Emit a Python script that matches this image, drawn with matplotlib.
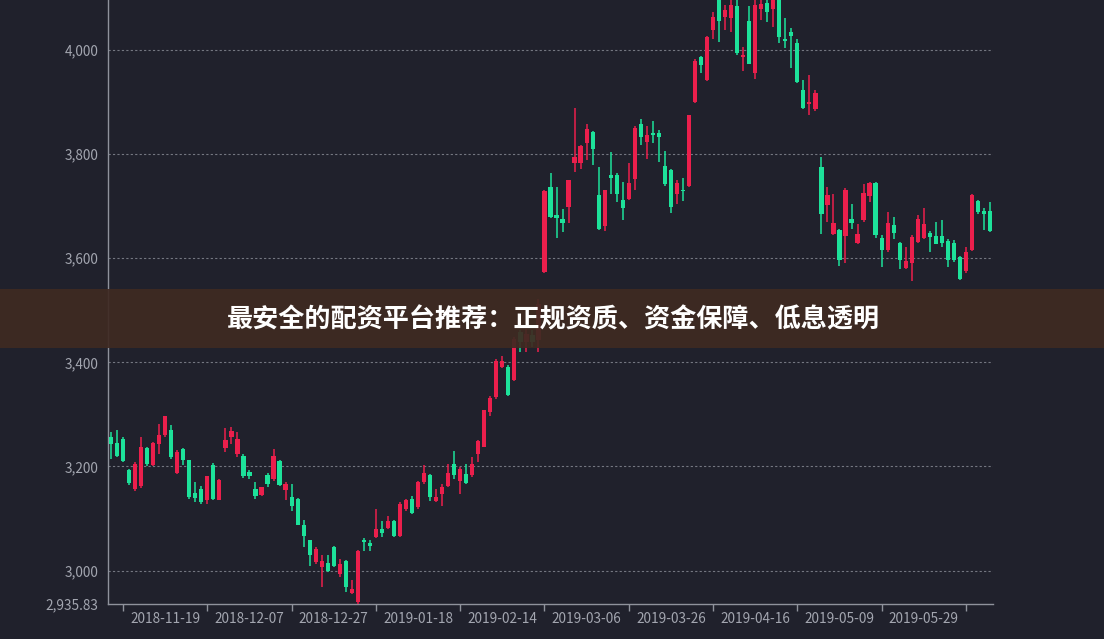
import numpy as np
import pandas as pd
import matplotlib
matplotlib.use('Agg')
import matplotlib.pyplot as plt
from matplotlib.patches import Rectangle
from matplotlib.ticker import FuncFormatter

plt.rcParams['font.family'] = ['Noto Sans CJK SC', 'DejaVu Sans']

# 交易日（剔除节假日）
holidays = ['2018-12-31', '2019-01-01', '2019-02-04', '2019-02-05', '2019-02-06',
            '2019-02-07', '2019-02-08', '2019-04-05', '2019-05-01', '2019-05-02',
            '2019-05-03', '2019-06-07']
dates = [d for d in pd.bdate_range('2018-11-06', '2019-06-14').strftime('%Y-%m-%d')
         if d not in holidays]

tick_labels = ['2018-11-19', '2018-12-07', '2018-12-27', '2019-01-18', '2019-02-14',
               '2019-03-06', '2019-03-26', '2019-04-16', '2019-05-09', '2019-05-29']

opens = [3256, 3245, 3253, 3194, 3157, 3163, 3235, 3202, 3244, 3260,
         3270, 3187, 3234, 3212, 3149, 3157, 3135, 3202, 3136, 3235,
         3256, 3223, 3221, 3189, 3157, 3146, 3183, 3176, 3210, 3155,
         3141, 3138, 3087, 3059, 3016, 3006, 3014, 3046, 2994, 3019,
         2957, 2940, 3059, 3053, 3064, 3080, 3082, 3096, 3067, 3119,
         3138, 3122, 3170, 3183, 3133, 3147, 3163, 3205, 3173, 3186,
         3183, 3223, 3238, 3304, 3333, 3392, 3392, 3367, 3458, 3440,
         3452, 3442, 3574, 3736, 3683, 3676, 3699, 3782, 3782, 3821,
         3843, 3721, 3662, 3760, 3760, 3712, 3713, 3753, 3858, 3824,
         3841, 3840, 3777, 3769, 3723, 3732, 3738, 3901, 3986, 3942,
         4038, 4100, 4063, 4061, 4085, 3986, 4056, 3956, 4078, 4090,
         4078, 4105, 4022, 4035, 4014, 3923, 3896, 3886, 3776, 3702,
         3647, 3655, 3642, 3676, 3629, 3673, 3719, 3745, 3638, 3615,
         3663, 3629, 3582, 3590, 3631, 3638, 3649, 3642, 3642, 3633,
         3629, 3603, 3576, 3615, 3710, 3691, 3691]
highs = [3266, 3270, 3256, 3195, 3208, 3256, 3238, 3247, 3282, 3296,
         3279, 3231, 3235, 3213, 3170, 3162, 3181, 3206, 3176, 3273,
         3276, 3266, 3224, 3194, 3170, 3161, 3187, 3234, 3212, 3170,
         3167, 3140, 3097, 3059, 3045, 3029, 3029, 3048, 3022, 3021,
         2981, 3040, 3063, 3058, 3119, 3096, 3104, 3097, 3131, 3138,
         3144, 3173, 3202, 3186, 3157, 3167, 3204, 3229, 3199, 3204,
         3218, 3251, 3309, 3335, 3407, 3413, 3394, 3449, 3462, 3465,
         3462, 3522, 3732, 3763, 3736, 3695, 3751, 3888, 3817, 3858,
         3845, 3776, 3732, 3804, 3763, 3747, 3782, 3854, 3867, 3854,
         3864, 3846, 3806, 3771, 3750, 3755, 3875, 3982, 3988, 4026,
         4072, 4110, 4087, 4098, 4098, 4006, 4085, 4100, 4098, 4096,
         4110, 4115, 4061, 4042, 4021, 3942, 3952, 3923, 3794, 3737,
         3724, 3657, 3734, 3704, 3665, 3742, 3747, 3747, 3644, 3689,
         3679, 3631, 3622, 3644, 3683, 3696, 3653, 3670, 3674, 3636,
         3635, 3604, 3622, 3723, 3712, 3697, 3708]
lows = [3215, 3218, 3208, 3165, 3153, 3159, 3200, 3200, 3224, 3256,
        3215, 3185, 3202, 3138, 3131, 3127, 3128, 3136, 3135, 3227,
        3244, 3219, 3178, 3176, 3138, 3144, 3160, 3173, 3163, 3135,
        3115, 3087, 3045, 3008, 3013, 2968, 2997, 3006, 2987, 2958,
        2955, 2935.83, 3037, 3038, 3063, 3064, 3080, 3065, 3064, 3115,
        3109, 3119, 3167, 3133, 3131, 3125, 3160, 3176, 3147, 3167,
        3179, 3208, 3237, 3296, 3330, 3390, 3335, 3364, 3420, 3420,
        3429, 3420, 3572, 3677, 3638, 3651, 3668, 3766, 3772, 3788,
        3779, 3655, 3653, 3724, 3708, 3674, 3712, 3732, 3817, 3790,
        3822, 3785, 3738, 3686, 3704, 3710, 3737, 3899, 3955, 3941,
        4021, 4016, 4038, 4035, 3990, 3960, 3973, 3944, 4058, 4054,
        4045, 4013, 4003, 3965, 3937, 3886, 3875, 3883, 3647, 3670,
        3644, 3585, 3590, 3657, 3627, 3670, 3708, 3638, 3583, 3612,
        3636, 3580, 3580, 3556, 3629, 3636, 3612, 3627, 3621, 3583,
        3593, 3558, 3571, 3614, 3685, 3654, 3651]
closes = [3244, 3221, 3210, 3168, 3205, 3238, 3204, 3245, 3261, 3296,
          3218, 3228, 3212, 3141, 3140, 3131, 3181, 3138, 3174, 3250,
          3269, 3253, 3181, 3181, 3144, 3160, 3167, 3221, 3165, 3167,
          3125, 3088, 3067, 3029, 3042, 3019, 2999, 3008, 3013, 2968,
          2965, 3038, 3054, 3048, 3080, 3072, 3096, 3067, 3128, 3135,
          3110, 3170, 3187, 3142, 3142, 3160, 3187, 3183, 3196, 3168,
          3205, 3249, 3308, 3332, 3403, 3403, 3338, 3444, 3439, 3455,
          3439, 3513, 3730, 3680, 3678, 3668, 3750, 3795, 3815, 3849,
          3809, 3657, 3731, 3755, 3723, 3697, 3745, 3851, 3833, 3837,
          3837, 3833, 3742, 3699, 3745, 3729, 3875, 3978, 3971, 4024,
          4064, 4056, 4077, 4087, 3994, 3990, 3974, 4087, 4088, 4072,
          4100, 4024, 4018, 4027, 3939, 3888, 3901, 3917, 3685, 3721,
          3668, 3596, 3732, 3667, 3647, 3726, 3745, 3644, 3615, 3668,
          3649, 3596, 3595, 3640, 3676, 3665, 3640, 3628, 3629, 3596,
          3596, 3561, 3612, 3721, 3689, 3685, 3653]

title = '最安全的配资平台推荐：正规资质、资金保障、低息透明'

bg = '#20212c'
up_color = '#eb1f4c'
down_color = '#1de29a'
text_color = '#a3a6b0'

fig = plt.figure(figsize=(11.04, 6.39), dpi=100, facecolor=bg)
ax = fig.add_axes([108 / 1104, 35 / 639, 885 / 1104, 604 / 639], facecolor=bg)

o = np.array(opens, dtype=float)
h = np.array(highs, dtype=float)
l = np.array(lows, dtype=float)
c = np.array(closes, dtype=float)
x = np.arange(len(dates))
colors = np.where(c >= o, up_color, down_color)

# 影线 + 实体
ax.vlines(x, l, h, colors=colors, lw=1.1, zorder=3)
body_bottom = np.minimum(o, c)
body_height = np.maximum(np.abs(c - o), 2.0)
ax.bar(x, body_height, bottom=body_bottom, width=0.7, color=colors, lw=0, zorder=4)

ymin = min(lows)
ax.set_xlim(-0.5, len(dates) - 0.5)
ax.set_ylim(ymin, 4096)

yt = [ymin] + list(range(3000, 4001, 200))
ax.set_yticks(yt)
ax.yaxis.set_major_formatter(FuncFormatter(
    lambda v, p: f'{v:,.2f}' if abs(v - round(v)) > 0.001 else f'{v:,.0f}'))
for v in range(3000, 4001, 200):
    ax.axhline(v, color='#8a8d97', lw=0.8, ls=(0, (2, 2)), alpha=0.8, zorder=1)

# x轴：刻度线每14个交易日，标签在区间中间
ax.set_xticks(x[2::14])
ax.set_xticklabels([])
label_pos = [dates.index(d) for d in tick_labels]
ax.set_xticks(label_pos, minor=True)
ax.set_xticklabels(tick_labels, minor=True)

ax.tick_params(axis='x', which='major', length=5, color='#8f929c', width=1)
ax.tick_params(axis='x', which='minor', length=0, pad=6, labelsize=9.8, labelcolor=text_color)
ax.tick_params(axis='y', length=0, pad=7, labelsize=9.8, labelcolor=text_color)

for side in ['top', 'right']:
    ax.spines[side].set_visible(False)
for side in ['left', 'bottom']:
    ax.spines[side].set_color('#8f929c')
    ax.spines[side].set_linewidth(1)

# 横幅
fig.add_artist(Rectangle((0, 291 / 639), 1, 59 / 639, transform=fig.transFigure,
                         facecolor='#3f2a22', alpha=0.93, lw=0, zorder=10))
fig.text(0.501, 319 / 639, title, color='white', fontsize=18.8, fontweight='bold',
         ha='center', va='center', zorder=11)

plt.savefig('out.png', dpi=100, facecolor=bg)
